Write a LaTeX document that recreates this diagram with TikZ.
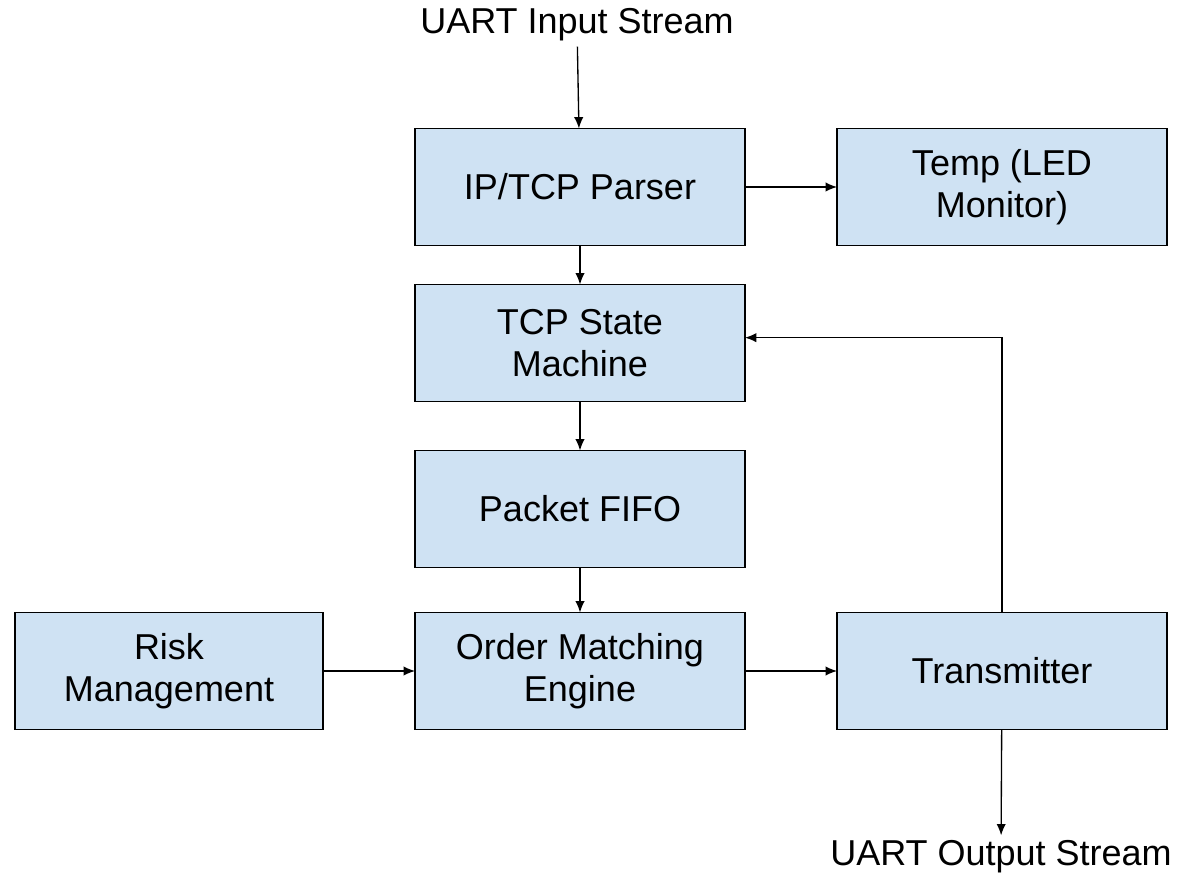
\documentclass[tikz,border=0pt]{standalone}
\usepackage{fontspec}
\setmainfont{Liberation Sans}
\usetikzlibrary{arrows.meta}

\definecolor{boxblue}{RGB}{207,226,243}

\tikzset{
    block/.style={draw=black, line width=1.3pt, fill=boxblue, minimum width=247.5pt,
        minimum height=87.75pt, align=center, inner sep=0pt, outer sep=0pt,
        font=\fontsize{27}{31.5}\selectfont},
    label/.style={inner sep=4pt, outer sep=0pt, font=\fontsize{27}{31.5}\selectfont},
    flow/.style={draw, line width=1pt, -{Latex[length=8.5pt,width=7pt]}}
}

\begin{document}
\begin{tikzpicture}[x=0.75pt, y=-0.75pt]
    \useasboundingbox (0,0) rectangle (1186,884);

    \node [label] (uartin) at (577, 25) {UART Input Stream};
    \node [block] (parser) at (580, 187) {IP/TCP Parser};
    \node [block] (temp) at (1002, 187) {Temp (LED\\Monitor)};
    \node [block] (state) at (580, 343) {TCP State\\Machine};
    \node [block] (fifo) at (580, 509) {Packet FIFO};
    \node [block] (match) at (580, 671) {Order Matching\\Engine};
    \node [block, minimum width=231pt] (risk) at (169, 671) {Risk\\Management};
    \node [block] (tx) at (1002, 671) {Transmitter};
    \node [label] (uartout) at (1001, 857) {UART Output Stream};

 \path[flow]
      (uartin) edge (parser)
      (parser) edge (temp)
      (parser) edge (state)
      (state) edge (fifo)
      (fifo) edge (match)
      (risk) edge (match)
      (match) edge (tx)
      (tx) edge (uartout);
    \draw [flow] (tx.north) |- ([yshift=4pt]state.east);
\end{tikzpicture}
\end{document}
